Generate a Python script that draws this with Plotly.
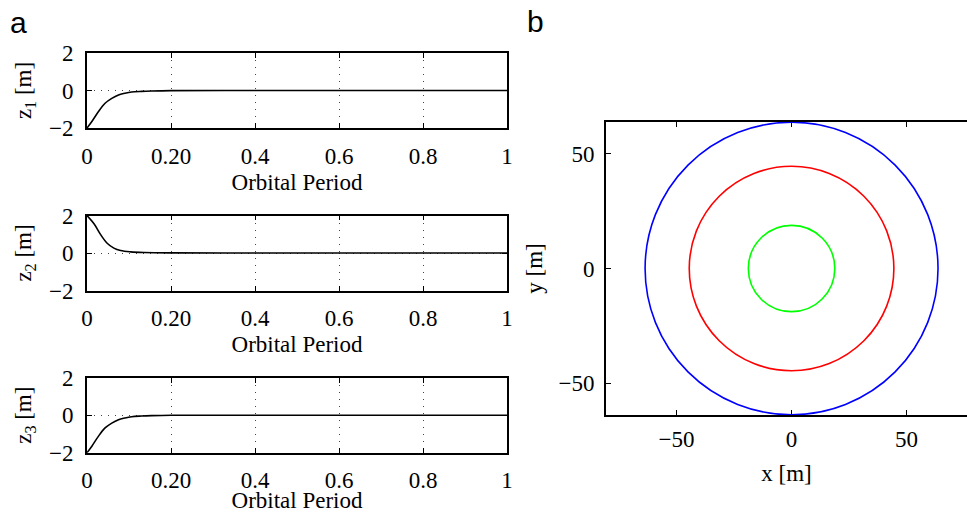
import plotly.graph_objects as go

# ---- data ----
t_z1 = [0, 0.012, 0.027, 0.043, 0.059, 0.075, 0.09, 0.106, 0.13, 0.154, 0.2, 0.4, 0.6, 0.8, 1.0]
z1 = [-2, -1.64, -1.13, -0.68, -0.42, -0.24, -0.15, -0.08, -0.045, -0.025, -0.005, 0, 0, 0, 0]
t_z2 = [0, 0.0167, 0.0325, 0.048, 0.064, 0.08, 0.104, 0.136, 0.2, 0.4, 0.6, 0.8, 1.0]
z2 = [2, 1.56, 0.98, 0.52, 0.26, 0.13, 0.06, 0.025, 0.005, 0, 0, 0, 0]
t_z3 = [0, 0.012, 0.027, 0.043, 0.059, 0.075, 0.09, 0.106, 0.13, 0.154, 0.2, 0.4, 0.6, 0.8, 1.0]
z3 = [-2, -1.64, -1.13, -0.68, -0.42, -0.24, -0.15, -0.08, -0.045, -0.025, -0.005, 0, 0, 0, 0]
x_tickvals = [0, 0.2, 0.4, 0.6, 0.8, 1]
x_ticktext = ["0", "0.20", "0.4", "0.6", "0.8", "1"]
z_ticks = [-2, 0, 2]
xy_ticks = [-50, 0, 50]
radii = [63.7, 44.5, 18.8]
circle_colors = ["#0000ff", "#ff0000", "#00ff00"]

SERIF = "Liberation Serif"
FS = 23
W, H = 967, 513

fig = go.Figure()

def py(px):
    return 1 - px / H

left_dom = [87 / W, 507 / W]
left_y = [(53, 128), (215.5, 290.5), (377.7, 452.7)]
series = [(t_z1, z1, "z<sub>1</sub> [m]"), (t_z2, z2, "z<sub>2</sub> [m]"), (t_z3, z3, "z<sub>3</sub> [m]")]
font = dict(family=SERIF, size=FS, color="black")
grid = dict(showgrid=True, gridcolor="#444444", griddash="1px,6px", gridwidth=1)

for i, ((top, bot), (tt, zz, lab)) in enumerate(zip(left_y, series)):
    n = i + 1
    xa = "x" if n == 1 else f"x{n}"
    ya = "y" if n == 1 else f"y{n}"
    fig.add_trace(go.Scatter(x=tt, y=zz, mode="lines", line=dict(color="black", width=1.6, shape="spline"),
                             xaxis=xa, yaxis=ya, showlegend=False))
    xkey = "xaxis" if n == 1 else f"xaxis{n}"
    ykey = "yaxis" if n == 1 else f"yaxis{n}"
    fig.update_layout(**{
        xkey: dict(domain=left_dom, anchor=ya, range=[0, 1], tickvals=x_tickvals, ticktext=x_ticktext,
                   showline=True, linecolor="black", linewidth=1.8, mirror="ticks",
                   ticks="inside", ticklen=5, tickcolor="black", zeroline=False, automargin=False,
                   ticklabelstandoff=6,
                   tickfont=font, title=dict(text="Orbital Period", font=font, standoff=6), **grid),
        ykey: dict(domain=[py(bot), py(top)], anchor=xa, range=[-2, 2], tickvals=z_ticks,
                   showline=True, linecolor="black", linewidth=1.8, mirror="ticks",
                   ticks="inside", ticklen=5, tickcolor="black", zeroline=False, automargin=False,
                   ticklabelstandoff=7,
                   tickfont=font, title=dict(text=lab, font=font, standoff=11), **grid),
    })

# right panel
fig.add_trace(go.Scatter(x=[0], y=[0], mode="markers", marker=dict(opacity=0), xaxis="x4", yaxis="y4",
                         showlegend=False, hoverinfo="skip"))
fig.update_layout(
    xaxis4=dict(domain=[606 / W, 1.0], anchor="y4", range=[-80.7, 76.3], tickvals=xy_ticks,
                showline=True, linecolor="black", linewidth=1.8, mirror="ticks",
                ticks="inside", ticklen=5, tickcolor="black", showgrid=False, zeroline=False,
                automargin=False, ticklabelstandoff=2,
                tickfont=font, title=dict(text="x [m]", font=font, standoff=14)),
    yaxis4=dict(domain=[py(415), py(122)], anchor="x4", range=[-63.8, 63.8], tickvals=xy_ticks,
                showline=True, linecolor="black", linewidth=1.8, mirror=False,
                ticks="inside", ticklen=5, tickcolor="black", showgrid=False, zeroline=False,
                automargin=False, ticklabelstandoff=5,
                tickfont=font, title=dict(text="y [m]", font=font, standoff=9)),
)
for r, c in zip(radii, circle_colors):
    fig.add_shape(type="circle", xref="x4", yref="y4", x0=-r, x1=r, y0=-r, y1=r,
                  line=dict(color=c, width=1.6), layer="above")

fig.add_annotation(text="a", x=8 / W, y=py(22), xref="paper", yref="paper", xanchor="left", yanchor="middle",
                   showarrow=False, font=dict(family="Liberation Sans", size=30, color="black"))
fig.add_annotation(text="b", x=525 / W, y=py(21), xref="paper", yref="paper", xanchor="left", yanchor="middle",
                   showarrow=False, font=dict(family="Liberation Sans", size=30, color="black"))

fig.update_layout(width=W, height=H, margin=dict(l=0, r=0, t=0, b=0, autoexpand=False),
                  paper_bgcolor="white", plot_bgcolor="white", showlegend=False)
fig.write_html("out.html", config={"displayModeBar": False},
               post_script="document.body.style.margin='0';document.body.style.overflow='hidden';")
